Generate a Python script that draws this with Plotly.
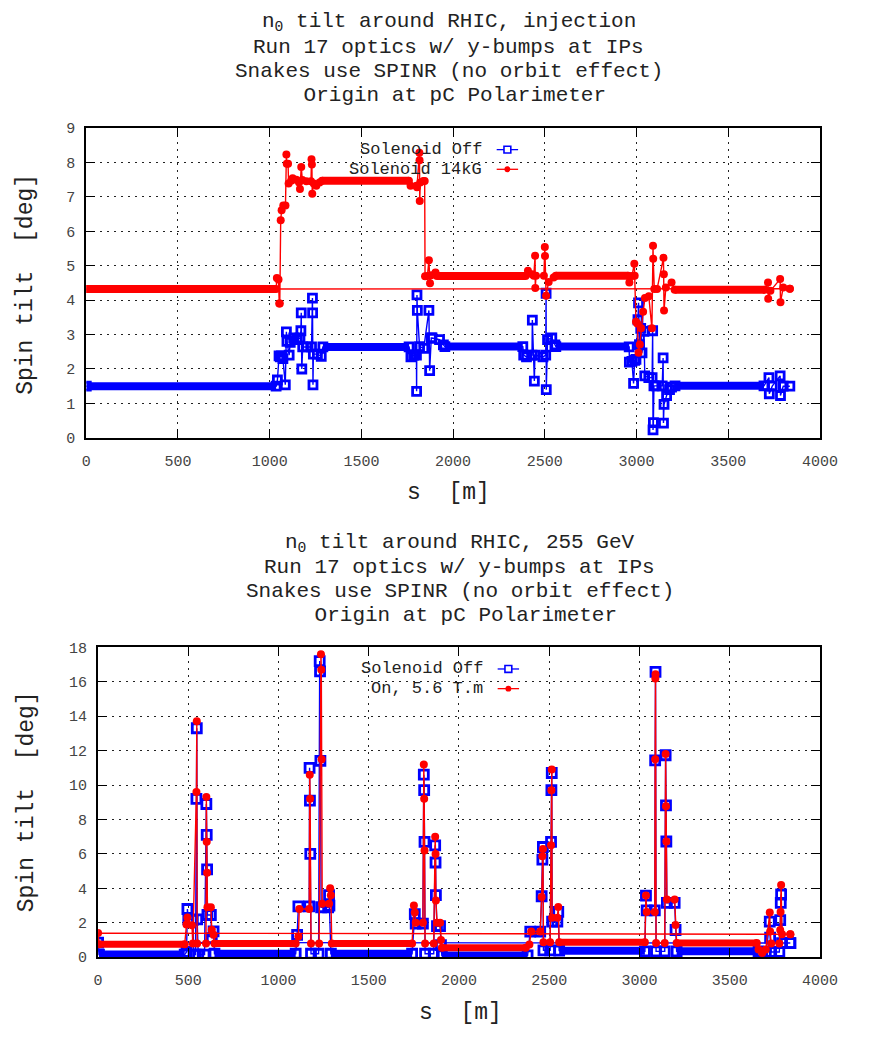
import plotly.graph_objects as go

FONT = "Liberation Mono"
BLUE = "#0000ff"
RED = "#ff0000"

# ---------------- upper panel: injection ----------------
inj_off_s = [0, 1035, 1042, 1051, 1058, 1064, 1072, 1085, 1091, 1094, 1106, 1112, 1131, 1150,
             1165, 1170, 1172, 1175, 1180, 1202, 1228, 1233, 1234, 1236, 1238, 1260, 1281, 1290,
             1760, 1770, 1785, 1800, 1801, 1803, 1805, 1817, 1840, 1868, 1872, 1881, 1885, 1926,
             1947, 1955, 2380, 2385, 2400, 2430, 2432, 2443, 2446, 2490, 2505, 2507, 2508, 2515,
             2538, 2555, 2560, 2960, 2961, 2975, 2984, 2990, 2997, 3008, 3011, 3016, 3023, 3030,
             3041, 3045, 3067, 3085, 3088, 3090, 3092, 3095, 3108, 3140, 3145, 3147, 3150, 3164,
             3180, 3191, 3210, 3695, 3722, 3724, 3740, 3783, 3785, 3800, 3836]
inj_off_tilt = [1.50, 1.50, 1.68, 2.38, 2.35, 2.38, 2.30, 1.54, 3.08, 2.80, 2.40, 2.77, 2.90, 2.85,
                2.90, 3.11, 3.63, 2.00, 2.64, 2.64, 2.64, 4.06, 3.63, 1.54, 2.43, 2.43, 2.37, 2.64,
                2.64, 2.35, 2.40, 2.40, 1.35, 4.15, 3.70, 2.65, 2.60, 3.70, 1.95, 2.90, 2.90, 2.85,
                2.70, 2.65, 2.65, 2.40, 2.35, 2.40, 3.42, 1.65, 2.40, 2.35, 2.40, 4.20, 1.40, 2.85,
                2.90, 2.70, 2.65, 2.64, 2.20, 2.22, 1.58, 2.25, 2.28, 3.43, 3.92, 2.71, 3.18, 2.47,
                3.09, 1.80, 1.75, 1.75, 3.11, 0.23, 0.44, 1.51, 1.51, 1.51, 2.32, 0.43, 0.97, 1.23,
                1.40, 1.47, 1.51, 1.51, 1.75, 1.28, 1.50, 1.80, 1.23, 1.50, 1.50]
inj_off_flat_start = [0, 1290, 1955, 2560, 3210]
inj_off_flat_end = [1035, 1760, 2380, 2960, 3695]
inj_off_flat_level = [1.50, 2.64, 2.65, 2.65, 1.51]

inj_on_s = [3836, 0, 1035, 1039, 1048, 1052, 1055, 1060, 1065, 1074, 1086, 1091, 1093, 1100, 1103,
            1117, 1125, 1145, 1160, 1165, 1172, 1178, 1200, 1225, 1228, 1230, 1232, 1240, 1254,
            1272, 1285, 1759, 1768, 1800, 1803, 1816, 1817, 1818, 1821, 1838, 1845, 1847, 1860,
            1868, 1874, 1880, 1904, 1912, 2395, 2408, 2430, 2440, 2447, 2448, 2452, 2495, 2500,
            2501, 2507, 2521, 2548, 2560, 2955, 2961, 2975, 2988, 2990, 2997, 3004, 3011, 3018,
            3025, 3036, 3046, 3067, 3084, 3090, 3091, 3097, 3112, 3147, 3149, 3150, 3160, 3191,
            3208, 3700, 3717, 3718, 3730, 3783, 3785, 3800, 3836]
inj_on_tilt = [4.33, 4.32, 4.32, 4.64, 4.60, 3.90, 3.90, 6.32, 6.61, 6.75, 6.75, 8.23, 7.96, 7.96,
               7.39, 7.47, 7.54, 7.50, 7.42, 7.23, 7.87, 7.49, 7.45, 7.45, 8.09, 7.94, 7.09, 7.39,
               7.32, 7.42, 7.47, 7.47, 7.32, 7.32, 7.28, 8.28, 8.06, 6.88, 7.42, 7.46, 7.46, 4.69,
               4.70, 5.16, 4.49, 4.72, 4.80, 4.70, 4.70, 4.85, 4.75, 4.71, 5.29, 4.35, 4.71, 4.71,
               5.54, 5.28, 4.13, 4.53, 4.66, 4.71, 4.71, 4.51, 4.70, 5.06, 4.71, 3.37, 3.32, 2.47,
               2.71, 3.18, 3.66, 4.06, 4.11, 3.18, 5.58, 5.20, 4.32, 4.32, 5.23, 4.75, 3.70, 4.37,
               4.51, 4.30, 4.30, 4.51, 4.04, 4.27, 4.61, 3.94, 4.37, 4.33]
inj_on_flat_start = [0, 1285, 1912, 2560, 3208]
inj_on_flat_end = [1035, 1759, 2395, 2955, 3700]
inj_on_flat_level = [4.32, 7.47, 4.70, 4.71, 4.30]

# ---------------- lower panel: 255 GeV ----------------
top_off_s = [3836, 0, 5, 480, 490, 495, 500, 525, 530, 540, 545, 547, 549, 555, 590, 600, 602, 604,
             606, 625, 630, 640, 645, 1095, 1103, 1110, 1170, 1172, 1174, 1176, 1180, 1222, 1228,
             1230, 1232, 1236, 1275, 1280, 1282, 1290, 1740, 1755, 1760, 1800, 1805, 1807, 1809,
             1812, 1860, 1868, 1870, 1872, 1878, 1895, 1900, 1905, 2380, 2395, 2450, 2458, 2462,
             2465, 2468, 2505, 2510, 2512, 2514, 2516, 2545, 2550, 2555, 3030, 3036, 3040, 3085,
             3087, 3089, 3092, 3140, 3145, 3147, 3149, 3152, 3195, 3200, 3206, 3660, 3673, 3700,
             3722, 3724, 3730, 3775, 3780, 3783, 3785, 3790, 3836]
top_off_tilt = [0.82, 0.85, 0.15, 0.15, 0.30, 2.80, 2.20, 2.17, 0.15, 0.15, 9.20, 13.30, 2.20, 0.15,
                0.15, 8.90, 7.10, 5.10, 2.45, 2.45, 1.10, 1.50, 0.20, 0.20, 1.30, 2.95, 2.95, 11.00,
                9.10, 6.00, 0.20, 0.20, 17.20, 16.60, 11.40, 2.90, 2.90, 3.60, 3.00, 0.20, 0.20,
                2.50, 1.95, 1.95, 10.60, 9.70, 6.70, 0.20, 0.20, 6.50, 5.50, 3.60, 1.80, 1.80, 0.70,
                0.10, 0.10, 1.49, 1.49, 3.54, 5.67, 6.40, 0.40, 0.40, 6.70, 9.70, 10.70, 2.06, 2.06,
                2.63, 0.38, 0.34, 3.58, 2.72, 2.72, 11.43, 16.57, 0.34, 0.34, 11.73, 8.82, 6.72,
                3.16, 3.16, 1.58, 0.34, 0.34, 0.25, 0.15, 2.06, 1.14, 0.30, 0.30, 2.15, 3.16, 3.64,
                0.82, 0.82]
top_off_flat_start = [5, 645, 1290, 1905, 2555, 3206]
top_off_flat_end = [480, 1095, 1740, 2380, 3030, 3660]
top_off_flat_level = [0.15, 0.20, 0.20, 0.10, 0.38, 0.34]

top_on_s = [3836, 0, 5, 480, 490, 495, 520, 525, 545, 547, 549, 598, 600, 602, 604, 606, 625, 630,
            640, 645, 1095, 1110, 1115, 1170, 1173, 1175, 1180, 1225, 1235, 1237, 1239, 1242, 1280,
            1286, 1290, 1295, 1740, 1750, 1755, 1760, 1800, 1805, 1807, 1809, 1812, 1860, 1868,
            1870, 1872, 1878, 1895, 1900, 1905, 2370, 2390, 2400, 2450, 2458, 2462, 2465, 2468,
            2505, 2510, 2512, 2514, 2516, 2545, 2550, 2555, 3030, 3036, 3040, 3085, 3087, 3088,
            3089, 3092, 3140, 3145, 3147, 3149, 3152, 3195, 3200, 3206, 3650, 3660, 3680, 3700,
            3722, 3724, 3730, 3775, 3780, 3782, 3785, 3790, 3836]
top_on_tilt = [1.33, 1.40, 0.75, 0.75, 1.90, 2.30, 1.85, 0.80, 9.60, 13.70, 0.80, 0.80, 9.30, 6.70,
               4.90, 2.90, 2.90, 1.60, 1.30, 0.80, 0.80, 1.20, 2.80, 2.80, 10.60, 9.20, 0.80, 0.80,
               17.60, 16.70, 11.50, 3.10, 3.10, 4.00, 3.60, 0.80, 0.80, 3.00, 2.60, 2.00, 2.00,
               11.20, 9.20, 6.20, 0.80, 0.80, 7.00, 6.00, 3.30, 2.00, 2.00, 1.00, 0.55, 0.55, 0.73,
               1.49, 1.49, 3.49, 5.87, 6.29, 0.87, 0.87, 6.50, 9.70, 10.90, 2.29, 2.29, 2.91, 0.87,
               0.87, 3.58, 2.63, 2.63, 11.50, 16.19, 16.44, 0.82, 0.82, 11.80, 8.77, 6.72, 3.35,
               3.35, 1.87, 0.82, 0.82, 0.45, 0.25, 0.45, 2.59, 1.49, 0.80, 0.80, 1.58, 2.63, 4.19,
               1.33, 1.33]
top_on_flat_start = [5, 645, 1295, 1905, 2555, 3206]
top_on_flat_end = [480, 1095, 1740, 2370, 3030, 3650]
top_on_flat_level = [0.75, 0.80, 0.80, 0.55, 0.87, 0.82]

x_ticks = [0, 500, 1000, 1500, 2000, 2500, 3000, 3500, 4000]

W, H = 872, 1038


def px(x):
    return x / W


def py(y):
    return 1 - y / H


def flat_xy(start, end, level):
    xs, ys = [], []
    for a, b, v in zip(start, end, level):
        xs += [a, b, None]
        ys += [v, v, None]
    return xs, ys


fig = go.Figure()


def add_series(s, tilt, fs, fe, fl, color, symbol, msize, axis, band_w):
    bx, by = flat_xy(fs, fe, fl)
    fig.add_trace(go.Scatter(x=bx, y=by, mode="lines", line=dict(color=color, width=band_w),
                             xaxis=axis[0], yaxis=axis[1], hoverinfo="skip", showlegend=False))
    mk = dict(color=color, size=msize, symbol=symbol)
    if symbol.endswith("open"):
        mk["line"] = dict(color=color, width=2.8)
    fig.add_trace(go.Scatter(x=s, y=tilt, mode="lines+markers", line=dict(color=color, width=1.4),
                             marker=mk, xaxis=axis[0], yaxis=axis[1], showlegend=False))


add_series(inj_off_s, inj_off_tilt, inj_off_flat_start, inj_off_flat_end, inj_off_flat_level,
           BLUE, "square-open", 8, ("x", "y"), 8)
add_series(inj_on_s, inj_on_tilt, inj_on_flat_start, inj_on_flat_end, inj_on_flat_level,
           RED, "circle", 8, ("x", "y"), 8)
add_series(top_off_s, top_off_tilt, top_off_flat_start, top_off_flat_end, top_off_flat_level,
           BLUE, "square-open", 9, ("x2", "y2"), 8)
add_series(top_on_s, top_on_tilt, top_on_flat_start, top_on_flat_end, top_on_flat_level,
           RED, "circle", 8, ("x2", "y2"), 7)

axis_common = dict(showline=True, linecolor="black", linewidth=2, mirror="allticks",
                   ticks="inside", ticklen=9, tickcolor="black", tickwidth=1,
                   showgrid=True, gridcolor="#222", gridwidth=1, griddash="2px,5px",
                   zeroline=False, tickfont=dict(family=FONT, size=15, color="#444"))

fig.update_layout(
    width=W, height=H, margin=dict(l=0, r=0, t=0, b=0),
    paper_bgcolor="white", plot_bgcolor="white", showlegend=False,
    xaxis=dict(domain=[px(83.5), px(837)], range=[0, 4000], tickvals=x_ticks, anchor="y",
               ticklabelstandoff=8, **axis_common),
    yaxis=dict(domain=[py(438), py(123)], range=[0, 9], dtick=1, anchor="x",
               ticklabelstandoff=6, **axis_common),
    xaxis2=dict(domain=[px(95.6), px(837)], range=[0, 4000], tickvals=x_ticks, anchor="y2",
                ticklabelstandoff=8, **axis_common),
    yaxis2=dict(domain=[py(966), py(651)], range=[0, 18], dtick=2, anchor="x2",
                ticklabelstandoff=6, **axis_common),
)

ann = []


def text(x, y, t, size=23, angle=0, xanchor="center"):
    ann.append(dict(x=px(x), y=py(y), xref="paper", yref="paper", text=t, showarrow=False,
                    font=dict(family=FONT, size=size, color="#222"), textangle=angle,
                    xanchor=xanchor, yanchor="middle"))


top_titles = ["n<sub>0</sub> tilt around RHIC, injection", "Run 17 optics w/ y-bumps at IPs",
              "Snakes use SPINR (no orbit effect)", " Origin at pC Polarimeter"]
bot_titles = ["n<sub>0</sub> tilt around RHIC, 255 GeV", "Run 17 optics w/ y-bumps at IPs",
              "Snakes use SPINR (no orbit effect)", " Origin at pC Polarimeter"]
for i, t in enumerate(top_titles):
    text(456, 16 + 24.7 * i, t, size=21)
for i, t in enumerate(bot_titles):
    text(467, 545 + 24.5 * i, t, size=21)

text(456, 494, "s  [m]")
text(468, 1023, "s  [m]")
text(22, 282, "Spin tilt  [deg]")
ann[-1]["textangle"] = -90
text(22, 808, "Spin tilt  [deg]")
ann[-1]["textangle"] = -90

# legend entries
shapes = []


def legend_row(xr, y, label, color, symbol):
    text(xr, y, label, size=17, xanchor="right")
    shapes.append(dict(type="line", xref="paper", yref="paper", x0=px(xr + 13), x1=px(xr + 35),
                       y0=py(y), y1=py(y), line=dict(color=color, width=1.3)))
    cx = xr + 24
    if symbol == "square":
        shapes.append(dict(type="rect", xref="paper", yref="paper", x0=px(cx - 3.5), x1=px(cx + 3.5),
                           y0=py(y + 3.5), y1=py(y - 3.5), line=dict(color=color, width=1.6),
                           fillcolor="white"))
    else:
        shapes.append(dict(type="circle", xref="paper", yref="paper", x0=px(cx - 3), x1=px(cx + 3),
                           y0=py(y + 3), y1=py(y - 3), line=dict(color=color, width=0),
                           fillcolor=color))


legend_row(492, 145, "Solenoid Off", BLUE, "square")
legend_row(492, 165, "Solenoid 14kG", RED, "circle")
legend_row(493, 673, "Solenoid Off", BLUE, "square")
legend_row(493, 693, "On, 5.6 T.m", RED, "circle")

fig.update_layout(annotations=ann, shapes=shapes)
fig.write_html("out.html")
